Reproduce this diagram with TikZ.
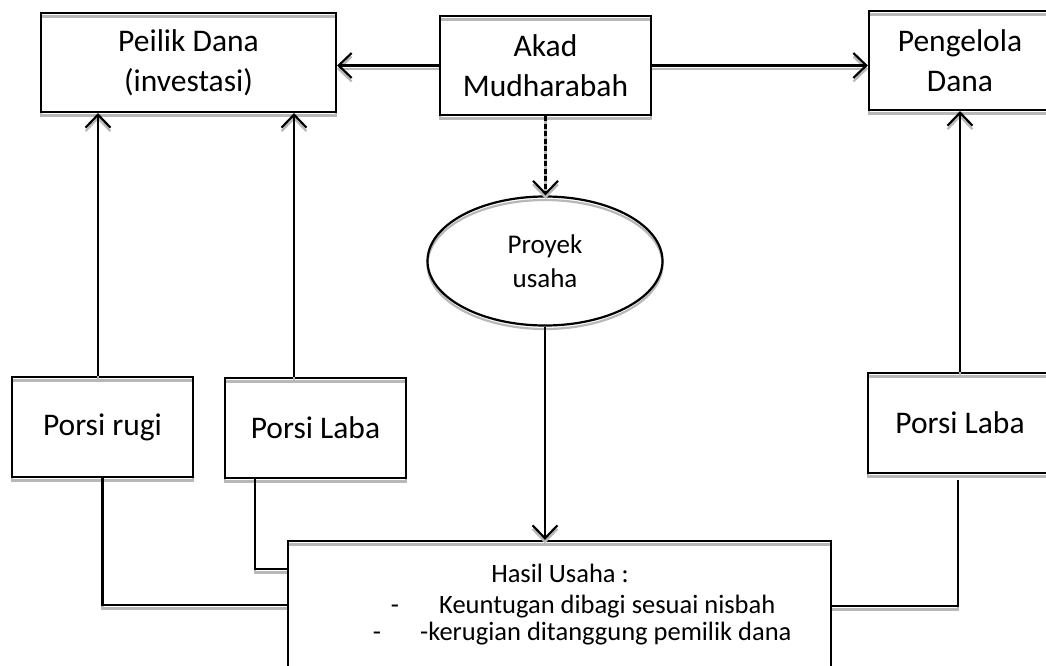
\documentclass[tikz,border=0pt]{standalone}
\usepackage{fontspec}
\setmainfont{Carlito}
\usetikzlibrary{arrows.meta,shapes.geometric}
\begin{document}
\begin{tikzpicture}[x=1pt,y=-1pt,
  shd/.style={preaction={draw=black!28,line width=2.2pt,transform canvas={yshift=-3.5pt}}},
  boxn/.style={draw,line width=2.2pt,shd,inner sep=0pt,align=center,font=\fontsize{31.5}{40}\selectfont},
  conn/.style={line width=2.2pt,shd},
  arr/.style={conn,-{Straight Barb[length=13pt,width=25pt,line width=2.2pt]}},
  txt/.style={inner sep=0pt,font=\fontsize{26.5}{30}\selectfont},
]
\path[use as bounding box] (0,0) rectangle (1046,666);
\clip (0,0) rectangle (1046,666);

\node[boxn, minimum width=295pt, minimum height=99pt] (pemilik) at (188.5,62.5) {Peilik Dana\\(investasi)};
\node[boxn, minimum width=211pt, minimum height=99pt] (akad) at (545.5,65.5) {Akad\\Mudharabah};
\node[boxn, minimum width=182pt, minimum height=99pt] (pengelola) at (960,60.5) {Pengelola\\Dana};
\node[ellipse, draw, line width=2.2pt, shd, inner sep=0pt, minimum width=235pt, minimum height=129pt, align=center, font=\fontsize{27}{34}\selectfont] (proyek) at (545,261) {Proyek\\usaha};
\node[boxn, minimum width=181pt, minimum height=100pt] (rugi) at (102.5,427) {Porsi rugi};
\node[boxn, minimum width=181pt, minimum height=100pt] (labaL) at (315.5,428) {Porsi Laba};
\node[boxn, minimum width=184pt, minimum height=100pt] (labaR) at (960,423) {Porsi Laba};
\node[boxn, minimum width=543pt, minimum height=159pt] (hasil) at (559.5,620.5) {};

\node[txt, anchor=base] (h1) at (560,582) {Hasil Usaha :};
\node[txt, anchor=base] (d1) at (395,613) {-};
\node[txt, anchor=base west] (h2) at (439,613) {Keuntugan dibagi sesuai nisbah};
\node[txt, anchor=base] (d2) at (377,640) {-};
\node[txt, anchor=base west] (h3) at (420,640) {-kerugian ditanggung pemilik dana};

% top arrows
\draw[arr] (akad.west) -- (akad.west -| pemilik.east);
\draw[arr] (akad.east) -- (akad.east -| pengelola.west);
\draw[arr, dash pattern=on 5pt off 2.5pt] (akad.south) -- (akad.south |- proyek.north);
\draw[arr] (proyek.south) -- (proyek.south |- hasil.north);

% up arrows
\draw[arr] ([xshift=-4.5pt]rugi.north) -- ([xshift=-4.5pt]rugi.north |- pemilik.south);
\draw[arr] ([xshift=-21.5pt]labaL.north) -- ([xshift=-21.5pt]labaL.north |- pemilik.south);
\draw[arr] (labaR.north) -- (labaR.north |- pengelola.south);

% bottom connectors
\draw[conn] (rugi.south) |- ([yshift=15.5pt]hasil.west);
\draw[conn] ([xshift=-60.5pt]labaL.south) |- ([yshift=51.5pt]hasil.west);
\draw[conn] ([xshift=-2pt,yshift=-6pt]labaR.south) |- ([yshift=14.5pt]hasil.east);
\end{tikzpicture}
\end{document}
